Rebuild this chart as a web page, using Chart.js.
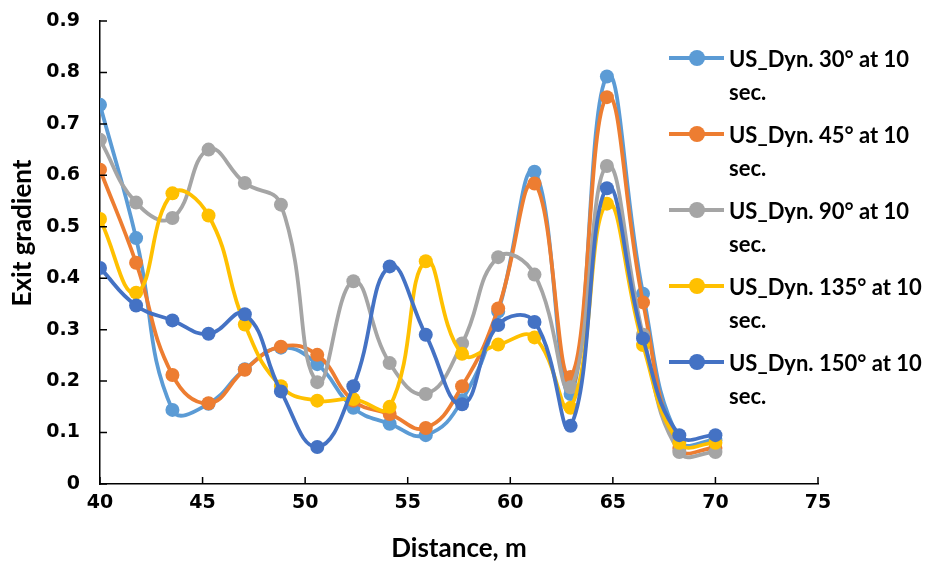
<!DOCTYPE html>
<html>
<head>
<meta charset="utf-8">
<title>Exit gradient vs distance</title>
<script src="https://cdn.jsdelivr.net/npm/chart.js@4.4.1/dist/chart.umd.min.js"></script>
<style>
  html, body { margin: 0; padding: 0; background: #fff; }
  #wrap { position: relative; width: 931px; height: 562px; }
  #legend {
    position: absolute; left: 669px; top: 42px;
    font-family: Lato, "Open Sans", sans-serif; font-weight: bold;
    font-size: 22px; color: #000; line-height: 33px;
  }
  .item { position: relative; height: 76px; }
  .swatch { position: absolute; left: 0; top: 14px; width: 55px; height: 4px; }
  .dot { position: absolute; left: 20px; top: 8px; width: 16px; height: 16px; border-radius: 50%; }
  .txt { position: absolute; left: 60px; top: 0; white-space: nowrap; }
</style>
</head>
<body>
<div id="wrap">
  <canvas id="grafico" width="931" height="562"></canvas>
  <div id="legend"></div>
</div>
<script>
const distancia = [40, 41.76, 43.53, 45.29, 47.06, 48.82, 50.59, 52.35, 54.12,
                   55.88, 57.65, 59.41, 61.18, 62.94, 64.71, 66.47, 68.24, 70];

const dyn30  = [0.737, 0.478, 0.144, 0.156, 0.223, 0.265, 0.233, 0.148, 0.117,
                0.095, 0.163, 0.335, 0.607, 0.175, 0.792, 0.370, 0.085, 0.085];
const dyn45  = [0.611, 0.430, 0.212, 0.157, 0.222, 0.267, 0.251, 0.162, 0.136,
                0.109, 0.190, 0.341, 0.584, 0.208, 0.752, 0.353, 0.070, 0.070];
const dyn90  = [0.669, 0.547, 0.517, 0.650, 0.585, 0.543, 0.198, 0.394, 0.235,
                0.175, 0.273, 0.441, 0.407, 0.188, 0.618, 0.290, 0.062, 0.062];
const dyn135 = [0.515, 0.372, 0.565, 0.522, 0.310, 0.190, 0.162, 0.165, 0.150,
                0.433, 0.253, 0.271, 0.285, 0.148, 0.545, 0.270, 0.080, 0.080];
const dyn150 = [0.420, 0.347, 0.318, 0.292, 0.330, 0.180, 0.072, 0.190, 0.423,
                0.290, 0.155, 0.309, 0.315, 0.113, 0.575, 0.283, 0.095, 0.095];

const nomes = ['US_Dyn. 30° at 10 sec.', 'US_Dyn. 45° at 10 sec.', 'US_Dyn. 90° at 10 sec.',
               'US_Dyn. 135° at 10 sec.', 'US_Dyn. 150° at 10 sec.'];
const cores = ['#5B9BD5', '#ED7D31', '#A5A5A5', '#FFC000', '#4472C4'];
const series = [dyn30, dyn45, dyn90, dyn135, dyn150];

const fonteTitulo = 'Lato, "Open Sans", sans-serif';
const fonteTicks = '"DejaVu Sans", Verdana, sans-serif';

// marcas internas nos eixos (estilo Excel)
const ticksInternos = {
  id: 'ticksInternos',
  afterDatasetsDraw(chart) {
    const ctx = chart.ctx;
    const x = chart.scales.x, y = chart.scales.y;
    ctx.save();
    ctx.strokeStyle = '#000';
    ctx.lineWidth = 1.5;
    ctx.beginPath();
    x.ticks.forEach((t, i) => {
      const px = x.getPixelForTick(i);
      ctx.moveTo(px, y.bottom);
      ctx.lineTo(px, y.bottom - 7);
    });
    y.ticks.forEach((t, i) => {
      const py = y.getPixelForTick(i);
      ctx.moveTo(x.left, py);
      ctx.lineTo(x.left + 7, py);
    });
    ctx.stroke();
    ctx.restore();
  }
};

// título do eixo Y, um pouco acima do centro do eixo
const tituloY = {
  id: 'tituloY',
  afterDraw(chart) {
    const ctx = chart.ctx;
    ctx.save();
    ctx.translate(23, 233);
    ctx.rotate(-Math.PI / 2);
    ctx.font = 'bold 26px ' + fonteTitulo;
    ctx.fillStyle = '#000';
    ctx.textAlign = 'center';
    ctx.textBaseline = 'middle';
    ctx.fillText('Exit gradient', 0, 0);
    ctx.restore();
  }
};

const ctx = document.getElementById('grafico').getContext('2d');
new Chart(ctx, {
  type: 'line',
  data: {
    datasets: series.map((valores, i) => ({
      label: nomes[i],
      data: valores.map((v, j) => ({ x: distancia[j], y: v })),
      borderColor: cores[i],
      backgroundColor: cores[i],
      pointBackgroundColor: cores[i],
      pointBorderColor: cores[i],
      borderWidth: 3.8,
      pointRadius: 7,
      pointBorderWidth: 0,
      tension: 0.45,
      order: series.length - i
    }))
  },
  options: {
    responsive: false,
    animation: false,
    layout: { autoPadding: false, padding: { top: 21, right: 113, left: 0, bottom: 0 } },
    plugins: {
      legend: { display: false },
      tooltip: { enabled: false }
    },
    scales: {
      x: {
        type: 'linear',
        min: 40, max: 75,
        afterFit: (escala) => { escala.height = 78; escala.paddingTop = 0; escala.paddingBottom = 0; },
        ticks: { stepSize: 5, color: '#000', font: { family: fonteTicks, size: 19, weight: 'bold' }, padding: 8 },
        grid: { display: true, drawOnChartArea: false, drawTicks: false },
        border: { color: '#000', width: 1.5 },
        title: { display: true, text: 'Distance, m', color: '#000',
                 font: { family: fonteTitulo, size: 26, weight: 'bold', lineHeight: 1 }, padding: { top: 0, bottom: 0 } }
      },
      y: {
        min: 0, max: 0.9,
        afterFit: (escala) => { escala.width = 100; escala.paddingTop = 0; escala.paddingBottom = 0; },
        ticks: { stepSize: 0.1, color: '#000', font: { family: fonteTicks, size: 19, weight: 'bold' }, padding: 20 },
        grid: { display: true, drawOnChartArea: false, drawTicks: false },
        border: { color: '#000', width: 1.5 },
        title: { display: false }
      }
    }
  },
  plugins: [ticksInternos, tituloY]
});

// legenda em HTML com texto em duas linhas
const legenda = document.getElementById('legend');
nomes.forEach((nome, i) => {
  const item = document.createElement('div');
  item.className = 'item';
  const partes = nome.split(' sec.');
  item.innerHTML =
    '<div class="swatch" style="background:' + cores[i] + '"></div>' +
    '<div class="dot" style="background:' + cores[i] + '"></div>' +
    '<div class="txt">' + partes[0] + '<br>sec.</div>';
  legenda.appendChild(item);
});
</script>
</body>
</html>
